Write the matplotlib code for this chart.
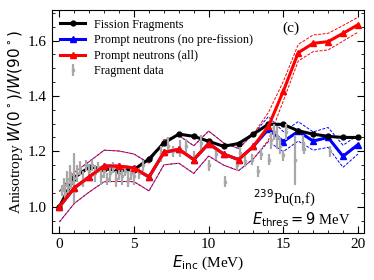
import numpy as np
import matplotlib
matplotlib.use("Agg")
import matplotlib.pyplot as plt
from matplotlib.ticker import MultipleLocator

plt.rcParams['font.family'] = ['Liberation Serif', 'DejaVu Serif']
plt.rcParams['mathtext.fontset'] = 'dejavusans'

# energies (MeV)
e_inc = np.arange(0, 21)

# Fission fragments
ff = [1.0, 1.105, 1.143, 1.137, 1.13, 1.134, 1.172, 1.23, 1.262, 1.254, 1.236,
      1.218, 1.228, 1.262, 1.298, 1.297, 1.274, 1.262, 1.254, 1.25, 1.25]

# Prompt neutrons (all)
pn_all = [1.0, 1.068, 1.108, 1.147, 1.146, 1.14, 1.107, 1.196, 1.207, 1.17, 1.228,
          1.19, 1.17, 1.218, 1.29, 1.417, 1.556, 1.59, 1.596, 1.626, 1.657]
pn_all_err = [0.055, 0.056, 0.055, 0.057, 0.055, 0.05, 0.05, 0.045, 0.05, 0.05, 0.045,
              0.04, 0.04, 0.045, 0.05, 0.035, 0.03, 0.03, 0.03, 0.028, 0.027]

# Prompt neutrons (no pre-fission)
pn_nopre = [1.0, 1.068, 1.108, 1.147, 1.146, 1.14, 1.107, 1.196, 1.207, 1.17, 1.228,
            1.19, 1.17, 1.218, 1.28, 1.235, 1.272, 1.237, 1.25, 1.182, 1.224]
pn_nopre_err = [0.055, 0.056, 0.055, 0.057, 0.055, 0.05, 0.05, 0.045, 0.05, 0.05, 0.045,
                0.04, 0.04, 0.045, 0.045, 0.036, 0.035, 0.033, 0.036, 0.04, 0.034]

# Fragment data
frag_e = [0.2, 0.3, 0.4, 0.5, 0.6, 0.7, 0.8, 1.0, 1.2, 1.4, 1.6, 1.8, 2.0, 2.2, 2.4,
          2.6, 2.8, 3.0, 3.2, 3.4, 3.6, 3.8, 4.0, 4.2, 4.4, 4.6, 4.8, 5.0, 5.3, 5.6,
          6.8, 7.3, 7.6, 8.1, 8.5, 9.0, 9.5, 10.05, 10.5, 11.1, 11.9, 12.1, 12.4, 12.9,
          13.3, 13.5, 14.05, 14.2, 14.4, 14.6, 14.8, 14.95, 15.2, 15.75, 16.3, 16.4, 18.1]
frag_a = [1.06, 1.08, 1.05, 1.10, 1.07, 1.12, 1.09, 1.105, 1.12, 1.14, 1.10, 1.15, 1.13,
          1.15, 1.12, 1.14, 1.11, 1.13, 1.10, 1.12, 1.14, 1.10, 1.12, 1.11, 1.13, 1.10,
          1.12, 1.11, 1.12, 1.15, 1.19, 1.22, 1.20, 1.21, 1.22, 1.18, 1.23, 1.15, 1.19,
          1.09, 1.15, 1.195, 1.165, 1.17, 1.128, 1.19, 1.17, 1.24, 1.27, 1.25, 1.22,
          1.185, 1.27, 1.17, 1.23, 1.21, 1.2]
frag_err = [0.02, 0.025, 0.02, 0.03, 0.02, 0.03, 0.025, 0.09, 0.03, 0.025, 0.03, 0.02,
            0.025, 0.02, 0.03, 0.02, 0.03, 0.025, 0.02, 0.03, 0.02, 0.03, 0.025, 0.03,
            0.02, 0.03, 0.025, 0.03, 0.02, 0.02, 0.03, 0.03, 0.02, 0.03, 0.025, 0.02,
            0.03, 0.02, 0.02, 0.02, 0.02, 0.02, 0.02, 0.02, 0.02, 0.02, 0.02, 0.03,
            0.03, 0.04, 0.03, 0.02, 0.03, 0.09, 0.03, 0.02, 0.02]

fig = plt.figure(figsize=(3.74, 2.8), dpi=100)
ax = fig.add_axes([0.139, 0.168, 0.834, 0.796])

pn_all = np.array(pn_all)
pn_all_err = np.array(pn_all_err)
pn_nopre = np.array(pn_nopre)
pn_nopre_err = np.array(pn_nopre_err)

# error bands
ax.plot(e_inc, pn_nopre + pn_nopre_err, color='blue', lw=0.7, ls=(0, (3, 1.5)))
ax.plot(e_inc, pn_nopre - pn_nopre_err, color='blue', lw=0.7, ls=(0, (3, 1.5)))
ax.plot(e_inc, pn_all + pn_all_err, color='red', lw=0.7, ls=(1.5, (3, 1.5)))
ax.plot(e_inc, pn_all - pn_all_err, color='red', lw=0.7, ls=(1.5, (3, 1.5)))

ax.plot(e_inc, pn_nopre, color='blue', lw=2.2, marker='^', ms=4,
        label='Prompt neutrons (no pre-fission)', zorder=3)
ax.plot(e_inc, ff, color='black', lw=2.2, marker='o', ms=3.5,
        label='Fission Fragments', zorder=4)
ax.errorbar(frag_e, frag_a, yerr=frag_err, fmt='s', ms=2, color='#a8a8a8',
            elinewidth=1.6, capsize=0, label='Fragment data', zorder=5)
ax.plot(e_inc, pn_all, color='red', lw=2.2, marker='^', ms=4,
        label='Prompt neutrons (all)', zorder=6)

h, l = ax.get_legend_handles_labels()
order = [l.index('Fission Fragments'), l.index('Prompt neutrons (no pre-fission)'),
         l.index('Prompt neutrons (all)'), l.index('Fragment data')]
ax.legend([h[i] for i in order], [l[i] for i in order], loc='upper left',
          frameon=False, fontsize=8.7, handlelength=2.0, labelspacing=0.3,
          borderaxespad=0.3)

ax.set_xlim(-0.5, 20.4)
ax.set_ylim(0.905, 1.71)
ax.xaxis.set_major_locator(MultipleLocator(5))
ax.xaxis.set_minor_locator(MultipleLocator(1))
ax.yaxis.set_major_locator(MultipleLocator(0.2))
ax.yaxis.set_minor_locator(MultipleLocator(0.05))
ax.tick_params(which='both', direction='in', top=True, right=True, labelsize=11)
ax.tick_params(which='major', length=5)
ax.tick_params(which='minor', length=2.5)

ax.set_xlabel(r'$E_{\rm inc}$ (MeV)', fontsize=11, labelpad=2)
ax.set_ylabel(r'Anisotropy $W(0^\circ)/W(90^\circ)$', fontsize=11, labelpad=2)

ax.text(15.5, 1.643, '(c)', fontsize=11, ha='center', va='center')
ax.text(13.0, 1.028, r'$^{239}$Pu(n,f)', fontsize=10.5, ha='left', va='center')
ax.text(12.9, 0.952, r'$E_{\rm thres} = 9$ MeV', fontsize=10.5, ha='left', va='center')

fig.savefig('out.png', dpi=100)
